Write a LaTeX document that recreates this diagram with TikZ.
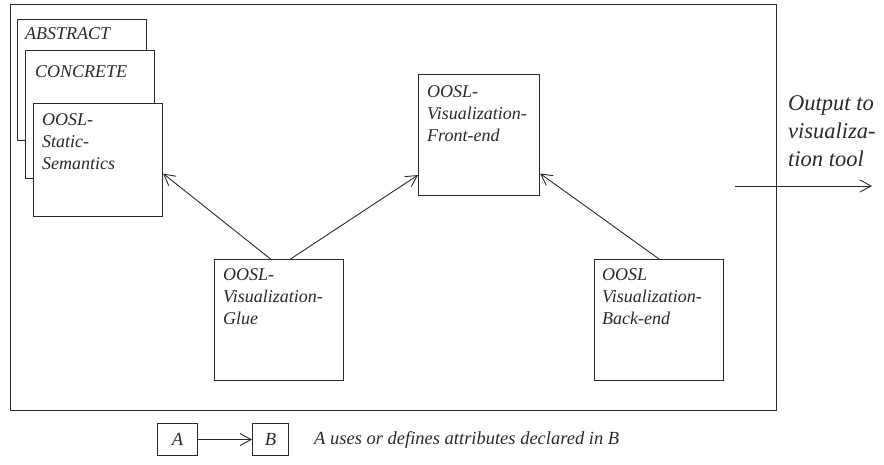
\documentclass[tikz,border=0pt]{standalone}
\usepackage{fontspec}
\setmainfont{Liberation Serif}
\usetikzlibrary{arrows.meta}

\definecolor{ink}{HTML}{2A2A2A}

\tikzset{
  frame/.style={draw=ink, line width=1.3pt, anchor=north west, inner sep=0pt},
  module/.style={draw=ink, line width=1.1pt, fill=white, anchor=north west, inner sep=0pt},
  modtext/.style={anchor=north west, inner sep=0pt, align=left, text=ink,
    font=\fontsize{18}{22}\selectfont\itshape},
  outtext/.style={anchor=north west, inner sep=0pt, align=left, text=ink,
    font=\fontsize{22.5}{28}\selectfont\itshape},
  legtext/.style={inner sep=0pt, text=ink, font=\fontsize{18.5}{22}\selectfont\itshape},
  dep/.style={draw=ink, line width=0.9pt, -{Straight Barb[length=11pt,width=12pt,line width=0.9pt]}}
}

\begin{document}
\begin{tikzpicture}[x=1pt,y=-1pt]
  \useasboundingbox (0,0) rectangle (884,465);

  % system boundary
  \node[frame, minimum width=766pt, minimum height=406pt] (sys) at (10,4) {};

  % stacked specification layers
  \node[module, minimum width=129pt, minimum height=121pt] (abs) at (17,19) {};
  \node[modtext] (absT) at ([xshift=8pt,yshift=-8pt]abs.north west) {ABSTRACT};
  \node[module, minimum width=129pt, minimum height=128pt] (con) at (25,50) {};
  \node[modtext] (conT) at ([xshift=10pt,yshift=-15pt]con.north west) {CONCRETE};
  \node[module, minimum width=129pt, minimum height=113pt] (sem) at (33,103) {};
  \node[modtext] (semT) at ([xshift=9pt,yshift=-10pt]sem.north west) {OOSL-\\Static-\\Semantics};

  % visualization modules
  \node[module, minimum width=121pt, minimum height=121pt] (front) at (418,74) {};
  \node[modtext] (frontT) at ([xshift=9pt,yshift=-11pt]front.north west) {OOSL-\\Visualization-\\Front-end};

  \node[module, minimum width=129pt, minimum height=121pt] (glue) at (214,259) {};
  \node[modtext] (glueT) at ([xshift=9pt,yshift=-9pt]glue.north west) {OOSL-\\Visualization-\\Glue};

  \node[module, minimum width=129pt, minimum height=121pt] (back) at (594,259) {};
  \node[modtext] (backT) at ([xshift=8pt,yshift=-9pt]back.north west) {OOSL\\Visualization-\\Back-end};

  % dependencies
  \draw[dep] ([xshift=-8.5pt]glue.north) -- ([yshift=-13.5pt]sem.east);
  \draw[dep] ([xshift=11.5pt]glue.north) -- ([yshift=-40pt]front.west);
  \draw[dep] (back.north) -- ([yshift=-38.5pt]front.east);

  % output
  \coordinate (outA) at (735,186);
  \coordinate (outB) at (872,186);
  \draw[dep] (outA) -- (outB);
  \node[outtext] (outT) at (788,95) {Output to\\visualiza-\\tion tool};

  % legend
  \node[module, minimum width=40pt, minimum height=32pt] (legA) at (157,423) {};
  \node[legtext] (legAT) at (legA.center) {A};
  \node[module, minimum width=36pt, minimum height=32pt] (legB) at (252,423) {};
  \node[legtext] (legBT) at (legB.center) {B};
  \draw[dep] (legA.east) -- (legB.west);
  \node[legtext, anchor=base west] (legT) at (314,444) {A uses or defines attributes declared in B};
\end{tikzpicture}
\end{document}
